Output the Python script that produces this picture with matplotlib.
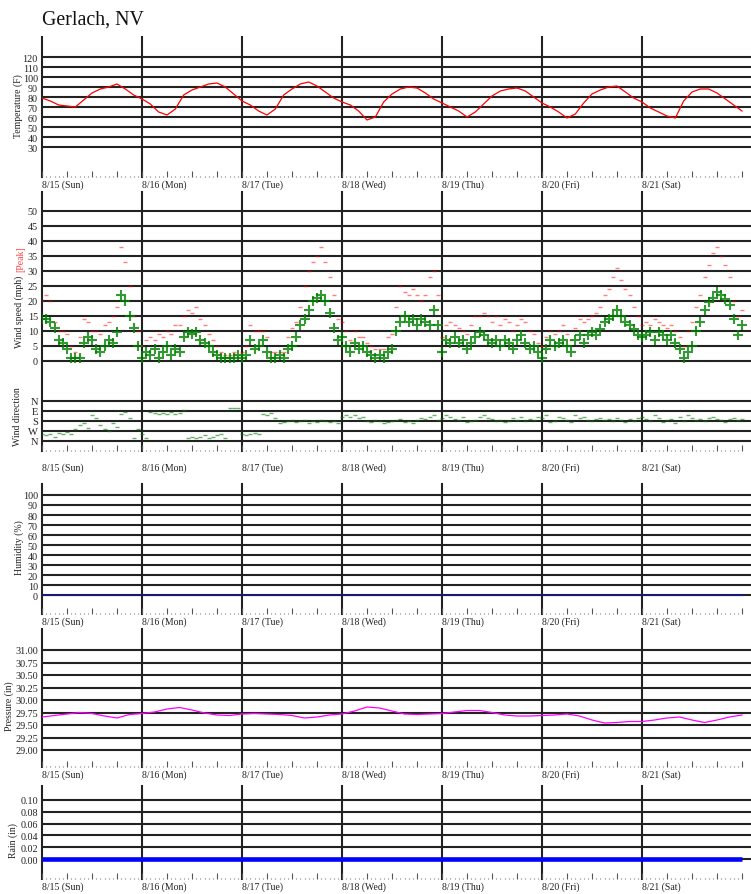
import numpy as np
import matplotlib
matplotlib.use("Agg")
import matplotlib.pyplot as plt
from matplotlib.ticker import FixedLocator

plt.rcParams['font.family'] = ['Liberation Serif', 'DejaVu Serif']

# Dados (leitura aproximada do grafico)
day_labels = ["8/15 (Sun)", "8/16 (Mon)", "8/17 (Tue)", "8/18 (Wed)",
              "8/19 (Thu)", "8/20 (Fri)", "8/21 (Sat)"]

# temperatura (F), a cada 2 h desde 8/15 00:00
temp_f = [79, 76, 72, 71, 70, 77, 84, 88, 90, 93, 88, 82,
          78, 73, 65, 62, 68, 82, 87, 90, 93, 94, 90, 83,
          76, 72, 66, 62, 68, 82, 88, 93, 95, 91, 85, 79,
          75, 72, 66, 57, 60, 75, 83, 88, 90, 89, 84, 78,
          74, 70, 66, 60, 65, 73, 81, 86, 88, 89, 86, 80,
          74, 70, 65, 59, 63, 74, 83, 87, 90, 91, 85, 79,
          75, 69, 65, 61, 59, 76, 85, 88, 88, 84, 78, 72, 66]

# vento medio (mph), de hora em hora
wind_mph = [14, 14, 13, 11, 7, 6, 4, 1, 1, 1, 6, 8, 7, 4, 3, 5, 7, 6, 9.5, 22, 20, 15, 11, 5,
            1, 3, 2, 4, 1, 3, 5, 2, 4, 3, 8, 9.5, 9, 9.5, 7, 6, 5, 3, 2, 1, 1, 1, 1, 2,
            1, 2, 7, 4, 5, 7, 3, 1, 1, 2, 1, 4, 5, 8, 12, 14, 17, 20, 21, 22, 20, 16, 11, 7,
            8, 5, 3, 6, 4, 5, 3, 2, 1, 2, 1, 3, 4, 10, 13, 15, 13, 14, 12, 14, 13, 12, 17, 12,
            3, 7, 6, 8, 6, 7, 4, 6, 8, 9.5, 8.5, 7, 6, 7, 5, 7, 6, 4, 7, 8.5, 6, 4, 5, 3,
            1, 4, 7, 5, 6, 7, 5, 3, 7, 8.5, 6, 8.5, 9.5, 8.5, 10.7, 13, 14, 15, 17, 15, 13, 12, 10.7, 8.5,
            8, 8.5, 9.5, 7, 9.5, 8.5, 7, 8.5, 6, 4, 1, 3, 5, 10, 13, 17, 19.5, 21, 23, 22, 20.7, 18.5, 14, 8.5, 12]

# rajada (mph), de hora em hora
peak_mph = [20, 22, 20, 13, 10, 10, 9, 5, 3, 8, 14, 13, 10, 10, 9, 12, 13, 15, 18, 38, 33, 25, 15, 10,
            5, 7, 8, 7, 9, 8, 10, 9, 12, 12, 15, 17, 16, 18, 14, 12, 9, 7, 5, 3, 2, 2, 3, 2,
            3, 5, 12, 10, 10, 10, 8, 3, 3, 3, 3, 8, 11, 13, 18, 25, 30, 33, 35, 38, 33, 28, 22, 14,
            13, 10, 7, 10, 8, 8, 6, 5, 4, 4, 4, 8, 9, 18, 25, 23, 22, 24, 22, 20, 22, 28, 30, 22,
            8, 12, 13, 12, 11, 10, 9, 12, 15, 15, 16, 15, 13, 15, 12, 14, 13, 10, 12, 14, 13, 10, 9, 6,
            5, 8, 10, 9, 10, 12, 9, 7, 11, 14, 13, 14, 15, 16, 18, 22, 24, 28, 31, 27, 24, 22, 18, 15,
            12, 13, 12, 14, 13, 12, 11, 12, 10, 8, 5, 10, 13, 18, 22, 28, 32, 36, 38, 35, 32, 28, 20, 15, 17]

# direcao (graus, 0 = N), de hora em hora
wind_dir = [300, 310, 300, 320, 290, 300, 280, 300, 250, 220, 200, 240, 130, 150, 220, 250, 270, 200, 230, 120, 100, 150, 330, 250,
            300, 330, 100, 110, 120, 110, 120, 100, 120, 110, 80, 330, 320, 330, 320, 310, 330, 320, 310, 300, 330, 60, 60, 60,
            300, 310, 300, 290, 300, 120, 130, 110, 150, 200, 190, 180, 170, 190, 180, 170, 200, 180, 190, 170, 180, 190, 180, 200,
            140, 130, 140, 130, 150, 140, 180, 190, 170, 180, 200, 190, 180, 170, 160, 190, 180, 200, 170, 150, 160, 140, 130, 170,
            150, 130, 140, 160, 170, 140, 190, 180, 170, 140, 130, 150, 160, 180, 170, 190, 180, 150, 170, 140, 180, 160, 170, 140,
            150, 130, 190, 180, 140, 150, 170, 190, 130, 150, 140, 170, 180, 160, 150, 170, 160, 180, 150, 170, 190, 160, 180, 150,
            140, 160, 180, 130, 150, 190, 170, 160, 200, 140, 180, 130, 150, 170, 160, 180, 150, 140, 160, 170, 190, 160, 150, 170, 160]

# pressao (in), a cada 3 h
press_in = [29.66, 29.69, 29.72, 29.75, 29.73, 29.68, 29.64, 29.71,
            29.73, 29.76, 29.82, 29.85, 29.80, 29.74, 29.70, 29.69,
            29.72, 29.73, 29.72, 29.71, 29.69, 29.64, 29.66, 29.70,
            29.72, 29.78, 29.86, 29.84, 29.78, 29.72, 29.71, 29.72,
            29.73, 29.76, 29.79, 29.79, 29.75, 29.70, 29.68, 29.68,
            29.69, 29.70, 29.72, 29.68, 29.60, 29.54, 29.55, 29.57,
            29.57, 29.60, 29.64, 29.66, 29.60, 29.55, 29.60, 29.66, 29.70]

humidity_pct = [0, 0]
rain_in = [0.0, 0.0]

temp_ticks = [30, 40, 50, 60, 70, 80, 90, 100, 110, 120]
wind_ticks = [0, 5, 10, 15, 20, 25, 30, 35, 40, 45, 50]
dir_ticks = [0, 90, 180, 270, 360]
dir_labels = ["N", "E", "S", "W", "N"]
hum_ticks = [0, 10, 20, 30, 40, 50, 60, 70, 80, 90, 100]
press_ticks = [29.00, 29.25, 29.50, 29.75, 30.00, 30.25, 30.50, 30.75, 31.00]
rain_ticks = [0.00, 0.02, 0.04, 0.06, 0.08, 0.10]

# layout em pixels
W, H = 751, 895
X0 = 42
XMAX = (W - X0) / 100.0
GRID = '#222222'
TXT = '#222222'

fig = plt.figure(figsize=(W / 100, H / 100), dpi=100)


def add_panel(top, bottom):
    return fig.add_axes([X0 / W, 1 - bottom / H, (W - X0) / W, (bottom - top) / H])


def frame(ax, ticks, labels, lims, days=True, lab_off=-2):
    for s in ax.spines.values():
        s.set_visible(False)
    ax.patch.set_alpha(0)
    ax.set_xlim(0, XMAX)
    ax.set_ylim(*lims)
    for t in ticks:
        ax.axhline(t, color=GRID, lw=1.5, zorder=1)
    ax.set_yticks(ticks)
    ax.set_yticklabels(labels)
    ax.tick_params(axis='y', length=0, pad=3, labelsize=7.3, labelcolor=TXT)
    if days:
        for d in range(7):
            ax.axvline(d, color=GRID, lw=1.5, zorder=1, clip_on=False)
        ax.xaxis.set_major_locator(FixedLocator(np.arange(0, 7.01, 0.25)))
        ax.xaxis.set_minor_locator(FixedLocator(np.arange(0, 7.01, 1 / 24)))
        ax.tick_params(axis='x', which='major', direction='in', length=4.3, width=0.8,
                       color='#555555', labelbottom=False)
        ax.tick_params(axis='x', which='minor', direction='in', length=0.8, width=0.8,
                       color='#777777')
        for d in range(7):
            ax.annotate(day_labels[d], (d, 0), xycoords=('data', 'axes fraction'),
                        xytext=(0, lab_off), textcoords='offset points', ha='left', va='top',
                        fontsize=7, color=TXT)
    else:
        ax.set_xticks([])


def ylab(x, y, s, color=TXT):
    fig.text(x / W, 1 - y / H, s, rotation=90, ha='center', va='center',
             fontsize=7, color=color)


fig.text(X0 / W, 1 - 25 / H, "Gerlach, NV", fontsize=14.3, va='baseline', color='#111111')

# temperatura
ax_t = add_panel(38, 178)
frame(ax_t, temp_ticks, [str(v) for v in temp_ticks], (0, 140))
t_temp = np.arange(len(temp_f)) * 2 / 24
ax_t.plot(t_temp, temp_f, color='red', lw=0.9, zorder=3)
ylab(18, 106, "Temperature (F)")

# vento
ax_w = add_panel(193, 452)
frame(ax_w, wind_ticks, [str(v) for v in wind_ticks], (-30, 56.33), lab_off=-8)
t_hour = np.arange(len(wind_mph)) / 24
ax_w.plot(t_hour, peak_mph, ls='none', marker='_', ms=3, mew=1, color='red', alpha=0.5, zorder=3)
ax_w.plot(t_hour, wind_mph, ls='none', marker='+', ms=6.5, mew=1.5, color='green', alpha=0.8, zorder=4)
ylab(19, 312, "Wind speed (mph)")
ylab(21, 259, "[Peak]", color='#ff4040')

ax_d = add_panel(392, 452)
frame(ax_d, dir_ticks, dir_labels, (450, -90), days=False)
ax_d.tick_params(axis='y', labelsize=7.6)
ax_d.plot(t_hour, wind_dir, ls='none', marker='_', ms=3.5, mew=1, color='green', alpha=0.6, zorder=3)
ylab(18, 417, "Wind direction")

# umidade
ax_h = add_panel(485, 615)
frame(ax_h, hum_ticks, [str(v) for v in hum_ticks], (-19, 111))
ax_h.plot([0, 7], humidity_pct, color='#1010c0', lw=0.8, zorder=3)
ylab(19, 548, "Humidity (%)")

# pressao
ax_p = add_panel(630, 768)
frame(ax_p, press_ticks, ["%.2f" % v for v in press_ticks], (28.66, 31.42))
t_press = np.arange(len(press_in)) * 3 / 24
ax_p.plot(t_press, press_in, color='magenta', lw=0.9, zorder=3)
ylab(9, 706, "Pressure (in)")

# chuva
ax_r = add_panel(787, 880)
frame(ax_r, rain_ticks, ["%.2f" % v for v in rain_ticks], (-0.033, 0.123))
ax_r.plot([0, 7], rain_in, color='blue', lw=3.3, zorder=3, solid_capstyle='butt')
ylab(13.5, 841, "Rain (in)")

fig.savefig("out.png", dpi=100)
